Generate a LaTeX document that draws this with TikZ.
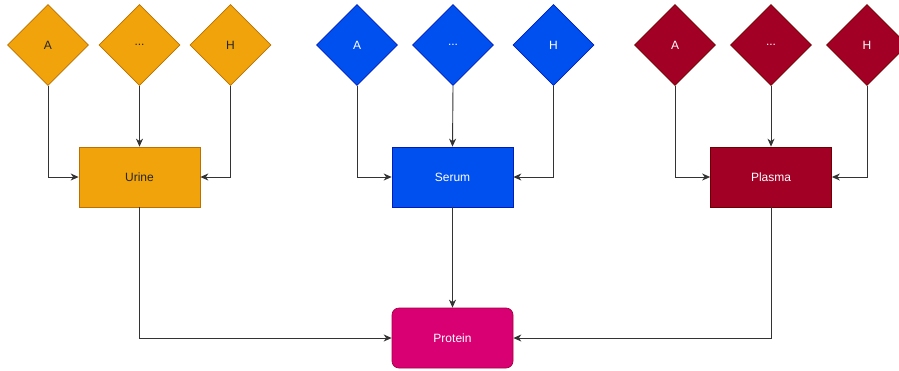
\documentclass[tikz,border=0pt]{standalone}
\usepackage{fontspec}
\setmainfont{Liberation Sans}
\usetikzlibrary{shapes.geometric,arrows.meta}
\definecolor{ofill}{HTML}{F0A30A}\definecolor{ostroke}{HTML}{BD7000}
\definecolor{bfill}{HTML}{0050EF}\definecolor{bstroke}{HTML}{001DBC}
\definecolor{rfill}{HTML}{A20025}\definecolor{rstroke}{HTML}{6F0000}
\definecolor{pfill}{HTML}{D80073}\definecolor{pstroke}{HTML}{A50040}
\definecolor{lineclr}{HTML}{333333}
\begin{document}
\begin{tikzpicture}[x=1pt,y=-1pt,
  dia/.style={diamond,minimum width=81pt,minimum height=81pt,inner sep=0pt,font=\fontsize{12}{14}\selectfont,line width=0.7pt},
  box/.style={rectangle,minimum width=121pt,minimum height=60pt,inner sep=0pt,font=\fontsize{12}{14}\selectfont,line width=0.7pt},
  ora/.style={fill=ofill,draw=ostroke,text=black!85},
  blu/.style={fill=bfill,draw=bstroke,text=white},
  red/.style={fill=rfill,draw=rstroke,text=white},
  conn/.style={draw=lineclr,line width=0.9pt,-{Stealth[length=8pt,width=7pt,inset=2.5pt]}}]
\useasboundingbox (0,0) rectangle (899,370);
% Urine group
\node[dia,ora] (ua) at (48,45) {A};
\node[dia,ora] (ud) at (139.5,45) {...};
\node[dia,ora] (uh) at (230.5,45) {H};
\node[box,ora] (urine) at (139.5,177) {Urine};
% Serum group
\node[dia,blu] (sa) at (357,45) {A};
\node[dia,blu] (sd) at (453,45) {...};
\node[dia,blu] (sh) at (553.5,45) {H};
\node[box,blu] (serum) at (452.5,177) {Serum};
% Plasma group
\node[dia,red] (pa) at (675,45) {A};
\node[dia,red] (pd) at (771,45) {...};
\node[dia,red] (ph) at (867,45) {H};
\node[box,red] (plasma) at (771,177) {Plasma};
% Protein
\node[box,fill=pfill,draw=pstroke,text=white,rounded corners=7pt] (protein) at (452.5,338) {Protein};
% connectors
\draw[conn] (ua.south) |- (urine.west);
\draw[conn] (ud.south) -- (urine.north);
\draw[conn] (uh.south) |- (urine.east);
\draw[conn] (sa.south) |- (serum.west);
\draw[conn] (sd.south) -- (serum.north);
\draw[conn] (sh.south) |- (serum.east);
\draw[conn] (pa.south) |- (plasma.west);
\draw[conn] (pd.south) -- (plasma.north);
\draw[conn] (ph.south) |- (plasma.east);
\draw[conn] (urine.south) |- (protein.west);
\draw[conn] (serum.south) -- (protein.north);
\draw[conn] (plasma.south) |- (protein.east);
\end{tikzpicture}
\end{document}
